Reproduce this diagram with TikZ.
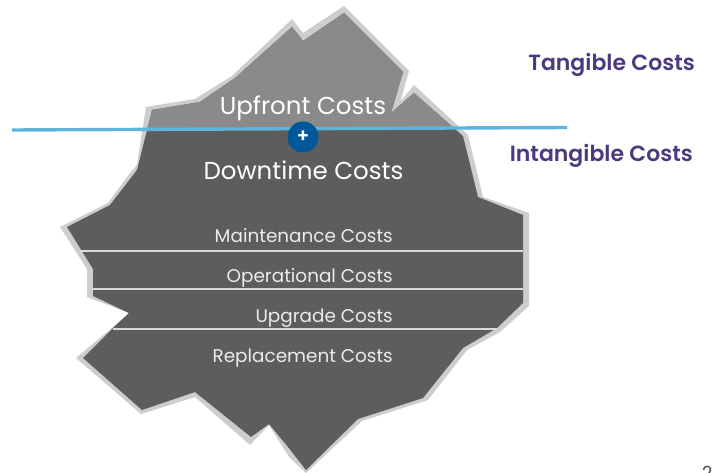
\documentclass[tikz,border=0pt]{standalone}
\usepackage{fontspec}
\setmainfont{Poppins}
\newfontfamily\semifont{Poppins SemiBold}
\usetikzlibrary{calc}
\definecolor{rimgray}{HTML}{CDCDCD}
\definecolor{tipgray}{HTML}{8A8A8A}
\definecolor{bulkgray}{HTML}{5D5D5D}
\definecolor{water}{HTML}{5FB4DC}
\definecolor{badge}{HTML}{00589B}
\definecolor{heading}{HTML}{4B3A7F}
\definecolor{rulegray}{HTML}{D9D9D9}
\tikzset{
  px/.style={x=1pt,y=-1pt},
  bigtext/.style={text=white,font=\fontsize{24.5}{28}\selectfont,inner sep=0pt},
  smalltext/.style={text=white!92!black,font=\fontsize{18.4}{22}\selectfont,inner sep=0pt,anchor=east},
  sidetext/.style={text=heading,font=\semifont\fontsize{22}{26}\selectfont,inner sep=0pt,anchor=east},
  tier/.style={draw=rulegray,line width=2pt},
}
\begin{document}
\begin{tikzpicture}[px]
\useasboundingbox (0,0) rectangle (712,473);
\fill[white] (0,0) rectangle (712,473);
% rim of the iceberg
\fill[rimgray] (344,6) -- (409,71) -- (400,103) -- (391,113) -- (414,85) -- (468,135) -- (483,197) -- (529,213) -- (529,306) -- (500,332) -- (467,350) -- (428,400) -- (362,421) -- (306,473) -- (289,457) -- (269,425) -- (250,445) -- (195,397) -- (141,414) -- (76,358) -- (113,327) -- (129,313) -- (87,297) -- (87,269) -- (60,227) -- (108,203) -- (130,173) -- (137,165) -- (146,107) -- (195,99) -- (232,76) -- (292,19) -- (303,33) -- cycle;
% body of the iceberg
\begin{scope}
\clip (344,13) -- (403,72) -- (391,113) -- (414,93) -- (463,136) -- (478,197) -- (523,215) -- (523,303) -- (497,328) -- (463,348) -- (423,398) -- (358,419) -- (306,470) -- (288,447) -- (269,424) -- (251,437) -- (195,392) -- (142,410) -- (83,358) -- (113,328) -- (129,313) -- (93,296) -- (93,269) -- (67,227) -- (110,205) -- (137,170) -- (152,110) -- (200,102) -- (235,78) -- (292,27) -- (303,41) -- cycle;
\fill[bulkgray] (0,0) rectangle (712,473);
\fill[tipgray] (0,0) -- (712,0) -- (712,126) -- (0,130) -- cycle;
\end{scope}
% tier rules
\coordinate (m1) at (80,250.5);  \coordinate (m2) at (523,250.5);
\coordinate (o1) at (93,288.5);  \coordinate (o2) at (523,288.5);
\coordinate (u1) at (113,328.5); \coordinate (u2) at (497,328.5);
\draw[tier] (m1) -- (m2);
\draw[tier] (o1) -- (o2);
\draw[tier] (u1) -- (u2);
% waterline
\coordinate (w1) at (12,130);
\coordinate (w2) at (567,127.5);
\draw[water,line width=3.4pt] (w1) -- (w2);
\node[circle,fill=badge,minimum size=31pt,inner sep=0pt,text=white,font=\semifont\fontsize{19}{20}\selectfont] (plus) at (303,137) {+};
% labels
\node[bigtext] (upfront) at (303,108) {Upfront Costs};
\node[bigtext] (downtime) at (303.5,170) {Downtime Costs};
\node[smalltext] (maint) at (393,236) {Maintenance Costs};
\node[smalltext] (oper) at (393,278) {Operational Costs};
\node[smalltext] (upg) at (393,318) {Upgrade Costs};
\node[smalltext] (repl) at (393,358) {Replacement Costs};
\node[sidetext] (tang) at (695,65) {Tangible Costs};
\node[sidetext] (intang) at (693,156) {Intangible Costs};
\node[text=black!70,font=\fontsize{18}{20}\selectfont,inner sep=0pt,anchor=west] (page) at (702,473) {2};
\end{tikzpicture}
\end{document}
